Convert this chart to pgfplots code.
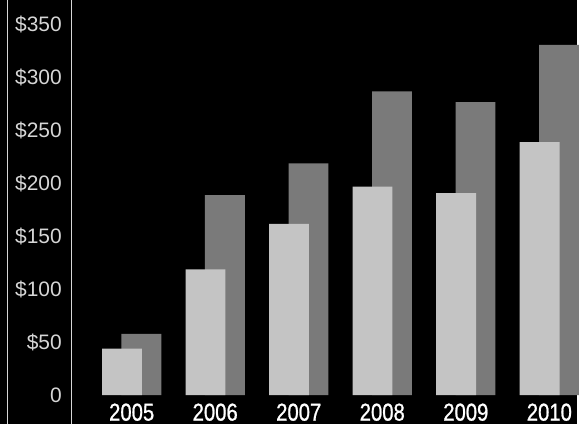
\documentclass[border=0pt]{standalone}
\usepackage{fontspec}
\setmainfont{Liberation Sans}
\newfontfamily\yearfont[FakeStretch=0.83, FakeBold=0.9]{Liberation Sans}
\usepackage{pgfplots}
\pgfplotsset{compat=1.18}
\definecolor{frontbar}{HTML}{C4C4C4}
\definecolor{backbar}{HTML}{7A7A7A}
\definecolor{ticktext}{HTML}{D6D6D6}
\begin{document}
\begin{tikzpicture}
\begin{axis}[
  width=579pt, height=425pt, scale only axis,
  xmin=2003.425, xmax=2010.334,
  ymin=-27.3, ymax=372.9,
  axis background/.style={fill=black},
  axis line style={draw=none},
  major tick length=0pt,
  xtick={2005,2006,2007,2008,2009,2010},
  xticklabels={2005,2006,2007,2008,2009,2010},
  xticklabel style={anchor=base, yshift=3.5pt, inner sep=0pt, text=white,
    font=\yearfont\fontsize{24.5}{26}\selectfont},
  ytick={0,50,100,150,200,250,300,350},
  yticklabels={0,\$50,\$100,\$150,\$200,\$250,\$300,\$350},
  yticklabel style={anchor=east, xshift=62pt, inner sep=0pt, text=ticktext,
    font=\fontsize{21}{24}\selectfont},
  clip=false,
]
% rules on the left of the value labels and between labels and bars
\draw[ticktext, line width=1pt] (axis cs:2003.508,-27.3) -- (axis cs:2003.508,372.9);
\draw[ticktext, line width=1pt] (axis cs:2004.284,-27.3) -- (axis cs:2004.284,372.9);
% rear series
\addplot[ybar, bar width=40pt, bar shift=9.75pt, fill=backbar, draw=none]
  coordinates {(2005,58) (2006,189) (2007,219) (2008,287) (2009,277) (2010,331)};
% front series
\addplot[ybar, bar width=40pt, bar shift=-9.75pt, fill=frontbar, draw=none]
  coordinates {(2005,44) (2006,119) (2007,162) (2008,197) (2009,191) (2010,239)};
\end{axis}
\end{tikzpicture}
\end{document}
